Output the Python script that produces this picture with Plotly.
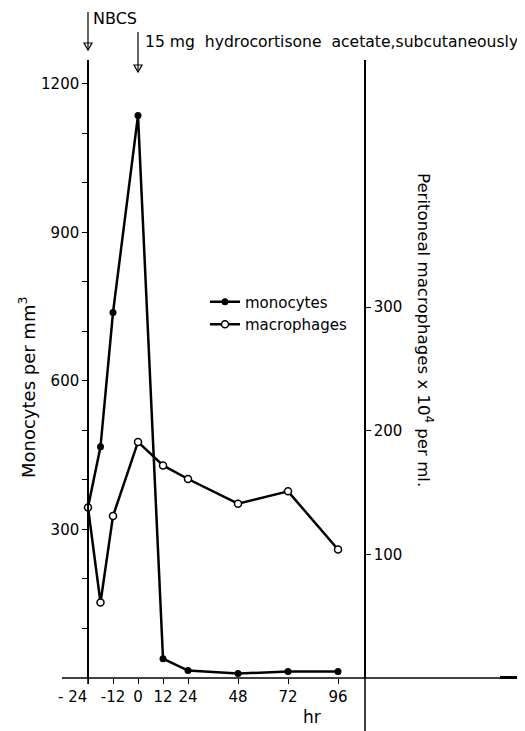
import plotly.graph_objects as go

hours = [-24, -18, -12, 0, 12, 24, 48, 72, 96]
monocytes = [345, 467, 738, 1136, 39, 15, 9, 13, 13]
macrophages = [138, 61, 131, 191, 172, 161, 141, 151, 104]

x_tickvals = [-12, 0, 12, 24, 48, 72, 96]
x_ticktext = ["-12", "0", "12", "24", "48", "72", "96"]
first_x_tick = -24
first_x_label = "- 24"
left_tickvals = [300, 600, 900, 1200]
left_ticktext = ["300", "600", "900", "1200"]
left_minor_ticks = [100, 200, 400, 500, 700, 800, 1000, 1100]
right_tickvals = [100, 200, 300]
right_ticktext = ["100", "200", "300"]

FONT = "DejaVu Sans"
OFF = 8  # page body margin
W, H = 525 - OFF, 731 - OFF
# plot area in page pixels
LEFT, RIGHT, TOP, BOT = 62, 517, 60, 678
PW, PH = RIGHT - LEFT, BOT - TOP


def py(px):
    """page pixel row -> paper y"""
    return (BOT - px) / PH


def pxx(px):
    """page pixel column -> paper x"""
    return (px - LEFT) / PW


fig = go.Figure()

fig.add_trace(go.Scatter(
    x=hours, y=macrophages, yaxis="y2", name="macrophages", mode="lines+markers",
    line=dict(color="black", width=2.5),
    marker=dict(symbol="circle", size=7, color="white", line=dict(color="black", width=1.5)),
    legendrank=2,
))
fig.add_trace(go.Scatter(
    x=hours, y=monocytes, yaxis="y", name="monocytes", mode="lines+markers",
    line=dict(color="black", width=2.5),
    marker=dict(symbol="circle", size=7, color="black"),
    legendrank=1,
))

axis_common = dict(showgrid=False, zeroline=False, ticks="outside", ticklen=5,
                   tickwidth=1.2, tickcolor="black", automargin=False,
                   tickfont=dict(size=15, family=FONT, color="black"))
minor_common = dict(ticks="outside", ticklen=5, tickwidth=1.2, tickcolor="black",
                    showgrid=False)

fig.update_layout(
    width=W, height=H,
    margin=dict(l=LEFT - OFF, r=W - (RIGHT - OFF), t=TOP - OFF, b=H - (BOT - OFF),
                autoexpand=False),
    paper_bgcolor="white", plot_bgcolor="white",
    font=dict(family=FONT, size=15, color="black"),
    showlegend=True,
    legend=dict(x=pxx(205), y=py(313), xanchor="left", yanchor="middle",
                bgcolor="rgba(0,0,0,0)", font=dict(size=15, family=FONT, color="black"),
                itemwidth=30, tracegroupgap=0),
    xaxis=dict(range=[-36.48, 181.9], tickvals=x_tickvals, ticktext=x_ticktext,
               showline=False, tickangle=0,
               minor=dict(tickmode="array", tickvals=[first_x_tick], **minor_common),
               **axis_common),
    yaxis=dict(range=[0, 1248], tickvals=left_tickvals, ticktext=left_ticktext,
               anchor="free", position=pxx(88), showline=True,
               linecolor="black", linewidth=1.5,
               minor=dict(tickmode="array", tickvals=left_minor_ticks, **minor_common),
               **axis_common),
    yaxis2=dict(range=[0, 500], tickvals=right_tickvals, ticktext=right_ticktext,
                overlaying="y", side="right", anchor="free", position=pxx(365),
                showline=True, linecolor="black", linewidth=1.5, **axis_common),
)

# bottom axis line and axis-line extensions
fig.add_shape(type="line", xref="paper", yref="paper", x0=0, x1=1, y0=0, y1=0,
              line=dict(color="black", width=1.5))
fig.add_shape(type="line", xref="paper", yref="paper", x0=pxx(500), x1=pxx(517),
              y0=py(677.5), y1=py(677.5), line=dict(color="black", width=3))
fig.add_shape(type="line", xref="paper", yref="paper", x0=pxx(88), x1=pxx(88),
              y0=py(684), y1=0, line=dict(color="black", width=1.5))
fig.add_shape(type="line", xref="paper", yref="paper", x0=pxx(365), x1=pxx(365),
              y0=py(731), y1=0, line=dict(color="black", width=1.5))


def arrow(px_x, y_top, y_tip):
    xs = pxx(px_x)
    w = 4 / PW
    fig.add_shape(type="line", xref="paper", yref="paper", x0=xs, x1=xs,
                  y0=py(y_top), y1=py(y_tip), line=dict(color="black", width=1.2))
    fig.add_shape(type="path", xref="paper", yref="paper",
                  path=f"M {xs - w},{py(y_tip - 7)} L {xs + w},{py(y_tip - 7)} L {xs},{py(y_tip)} Z",
                  line=dict(color="black", width=1.2), fillcolor="white")
    fig.add_shape(type="line", xref="paper", yref="paper", x0=xs, x1=xs,
                  y0=py(y_tip - 7), y1=py(y_tip), line=dict(color="black", width=1.2))


arrow(88, 12, 50)
arrow(138, 32, 72)

fig.add_annotation(x=pxx(91), y=py(19), xref="paper", yref="paper", text="NBCS",
                   showarrow=False, xanchor="left", yanchor="middle", font=dict(size=16))
fig.add_annotation(x=pxx(143), y=py(42), xref="paper", yref="paper",
                   text="15 mg  hydrocortisone  acetate,subcutaneously",
                   showarrow=False, xanchor="left", yanchor="middle", font=dict(size=15.6))

# first x tick label, set left of its tick as in the original
fig.add_annotation(x=pxx(72), y=py(697), xref="paper", yref="paper",
                   text=first_x_label, showarrow=False, xanchor="center", yanchor="middle",
                   font=dict(size=15))

# axis titles
fig.add_annotation(x=pxx(27), y=py(388), xref="paper", yref="paper",
                   text="Monocytes per mm<sup>3</sup>", textangle=-90, showarrow=False,
                   xanchor="center", yanchor="middle", font=dict(size=18))
fig.add_annotation(x=pxx(425), y=py(330), xref="paper", yref="paper",
                   text="Peritoneal macrophages x 10<sup>4</sup> per ml.", textangle=90,
                   showarrow=False, xanchor="center", yanchor="middle", font=dict(size=16.6))
fig.add_annotation(x=pxx(312), y=py(717), xref="paper", yref="paper",
                   text="hr", showarrow=False, xanchor="center", yanchor="middle",
                   font=dict(size=17))

fig.write_html("out.html")
